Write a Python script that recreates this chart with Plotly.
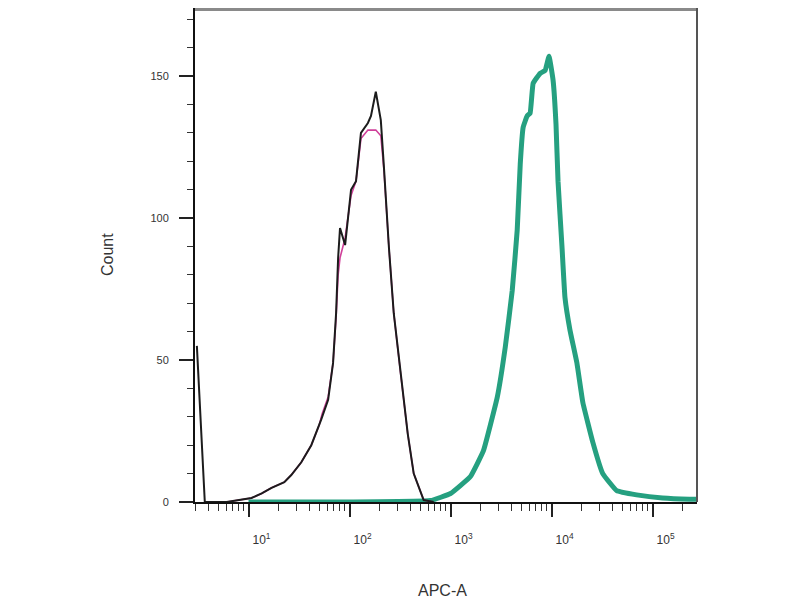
import plotly.graph_objects as go

# ---- data ----
black_x = [3.08, 3.69, 6.07, 10.7, 13.5, 16.9, 22.6, 26.5, 33.3, 41.8, 52.4, 61.4, 68.7, 73.6,
           77.1, 80.5, 90.4, 103.5, 115.9, 129.7, 152, 163, 182, 204, 219, 245, 274, 321,
           377, 432, 542, 681]
black_y = [55, 0, 0, 1.4, 3, 5, 7, 9.5, 14, 20, 29, 36, 49, 66.5,
           86, 96.5, 90.5, 110, 113, 130, 133.5, 136, 144.5, 134.5, 118, 90, 66.5, 45,
           24, 10, 0.7, 0]

magenta_x = [6.07, 10.7, 13.5, 16.9, 22.6, 26.5, 33.3, 41.8, 50.0, 53.5, 61.4, 68.7, 73.6,
             77.1, 80.5, 90.4, 103.5, 115.9, 129.7, 152, 163, 182, 204, 219, 245, 274, 321,
             377, 432, 542, 681]
magenta_y = [0, 1.4, 3, 5, 7, 9.5, 14, 20, 27, 31, 37, 49, 65,
             80, 86, 93, 108, 113, 128, 131, 131, 131, 129, 117, 90, 66.5, 45,
             24, 10, 0.7, 0]

green_x = [10, 100, 635, 1000, 1574, 2113, 2904, 3483, 4083, 4571, 4898, 5236, 5741, 6138,
           6577, 7709, 8630, 9441, 10350, 11070, 11590, 12680, 13580, 15210, 17820, 20420,
           25640, 32140, 44160, 69500, 125600, 231700, 271600]
green_y = [0, 0, 0.5, 3, 9, 18, 37, 54.6, 74.6, 95.8, 119, 132, 136, 137,
           147.5, 151, 152, 157, 148.6, 133, 113, 90, 72, 60.6, 49, 35,
           21, 10, 4, 2.5, 1.4, 1, 1]

x_tickvals = [10, 100, 1000, 10000, 100000]
x_ticktext = ["10<sup>1</sup>", "10<sup>2</sup>", "10<sup>3</sup>", "10<sup>4</sup>", "10<sup>5</sup>"]
y_tickvals = [0, 50, 100, 150]
y_ticktext = ["0", "50", "100", "150"]

fig = go.Figure()
fig.add_trace(go.Scatter(x=green_x, y=green_y, mode="lines",
                         line=dict(color="#25a080", width=5, shape="spline", smoothing=0.3),
                         hoverinfo="skip"))
fig.add_trace(go.Scatter(x=magenta_x, y=magenta_y, mode="lines",
                         line=dict(color="#d0409a", width=1.6),
                         hoverinfo="skip"))
fig.add_trace(go.Scatter(x=black_x, y=black_y, mode="lines",
                         line=dict(color="#1c1c1c", width=2),
                         hoverinfo="skip"))

fig.update_layout(
    width=800, height=600,
    margin=dict(l=187, r=111, t=0, b=106),
    paper_bgcolor="white", plot_bgcolor="white",
    showlegend=False,
    font=dict(family="Liberation Sans, Arial, sans-serif", color="#333"),
)
fig.update_xaxes(
    type="log", range=[0.47, 5.44],
    tickvals=x_tickvals, ticktext=x_ticktext,
    ticks="outside", ticklen=13, tickwidth=2, tickcolor="#222",
    tickfont=dict(size=12, color="#333"),
    ticklabelstandoff=13, ticklabelshift=13,
    minor=dict(ticks="outside", ticklen=7, tickwidth=1, tickcolor="#333", dtick="D1", showgrid=False),
    showline=True, linecolor="#111", linewidth=2,
    showgrid=False, zeroline=False,
)
fig.update_yaxes(
    range=[0, 174],
    tickvals=y_tickvals, ticktext=y_ticktext,
    ticks="outside", ticklen=14, tickwidth=2, tickcolor="#222",
    tickfont=dict(size=11, color="#333"),
    ticklabelstandoff=8,
    minor=dict(ticks="outside", ticklen=6, tickwidth=1, tickcolor="#333", dtick=10, showgrid=False),
    showline=True, linecolor="#111", linewidth=2,
    showgrid=False, zeroline=False,
)
# gray frame top and right
fig.add_shape(type="line", xref="paper", yref="paper", x0=0, x1=1, y0=1, y1=1,
              line=dict(color="#8a8a8a", width=6))
fig.add_shape(type="line", xref="paper", yref="paper", x0=1, x1=1, y0=0, y1=1,
              line=dict(color="#555", width=2))

fig.add_annotation(text="Count", xref="paper", yref="paper", x=0, y=0.5,
                   xshift=-88, xanchor="center", yanchor="middle",
                   textangle=-90, showarrow=False,
                   font=dict(size=16, color="#333"))
fig.add_annotation(text="APC-A", xref="paper", yref="paper", x=0.494, y=0,
                   yshift=-88, xanchor="center", yanchor="middle", showarrow=False,
                   font=dict(size=16, color="#333"))

fig.write_html("out.html")
